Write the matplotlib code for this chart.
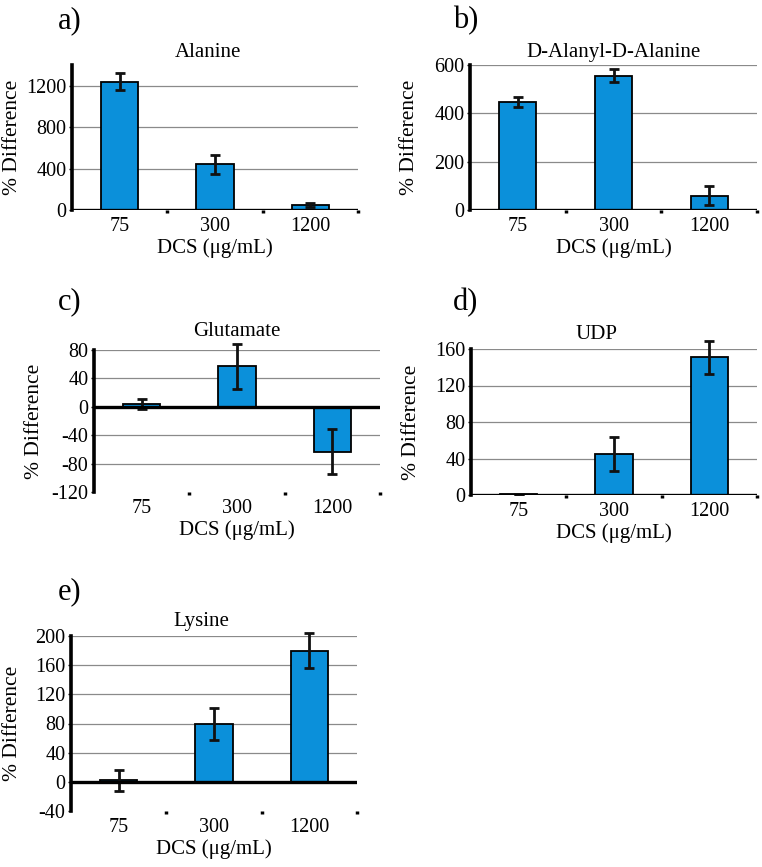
import matplotlib
matplotlib.use("Agg")
import matplotlib.pyplot as plt

plt.rcParams['font.family'] = ['Liberation Serif', 'DejaVu Serif']

# data
doses = ['75', '300', '1200']

alanine = [1240, 440, 48]
alanine_err = [85, 88, 15]

dada = [448, 555, 60]
dada_err = [20, 27, 40]

glutamate = [4, 57, -63]
glutamate_err = [7, 32, 32]

udp = [1.2, 45, 151]
udp_err = [0, 19, 18]

lysine = [2, 79, 180]
lysine_err = [14, 22, 24]

titles = ['Alanine', 'D-Alanyl-D-Alanine', 'Glutamate', 'UDP', 'Lysine']
letters = ['a)', 'b)', 'c)', 'd)', 'e)']
yticks = [[0, 400, 800, 1200],
          [0, 200, 400, 600],
          [-120, -80, -40, 0, 40, 80],
          [0, 40, 80, 120, 160],
          [-40, 0, 40, 80, 120, 160, 200]]
ylims = [(0, 1400), (0, 600), (-120, 80), (0, 160), (-40, 200)]

values = [alanine, dada, glutamate, udp, lysine]
errors = [alanine_err, dada_err, glutamate_err, udp_err, lysine_err]

W, H = 762, 867
# axes boxes in pixels: left, top, right, bottom
boxes = [(72, 65, 358, 210),
         (470, 65, 757, 210),
         (94, 350, 380, 492),
         (471, 349, 757, 495),
         (71, 636, 357, 811)]
title_pad = [6, 6, 10, 7, 7]
title_x = [0.475, 0.5, 0.5, 0.44, 0.455]
ylabel_px = [22, 419, 44, 421, 22]
letter_pos = [(58, 21), (453, 21), (58, 302), (453, 303), (58, 592)]

BLUE = '#0b90da'
FS = 14.5

fig = plt.figure(figsize=(W / 100, H / 100), dpi=100)

for i in range(5):
    l, t, r, b = boxes[i]
    ax = fig.add_axes([l / W, 1 - b / H, (r - l) / W, (b - t) / H])
    x = list(range(len(doses)))
    ax.bar(x, values[i], width=0.39, color=BLUE, edgecolor='black',
           linewidth=1.3, zorder=3)
    eb = ax.errorbar(x, values[i], yerr=errors[i], fmt='none', ecolor='#111111',
                     elinewidth=2, capsize=3.5, capthick=2, zorder=4)
    for art in eb.lines[1] + eb.lines[2]:
        art.set_clip_on(False)

    ax.set_xlim(-0.5, 2.5)
    ax.set_ylim(*ylims[i])
    ax.set_yticks(yticks[i])
    ax.set_yticklabels([str(v) for v in yticks[i]], fontsize=FS)
    for v in yticks[i]:
        if v != 0 and v != ylims[i][0]:
            ax.axhline(v, color='#8a8a8a', lw=0.9, zorder=1)
    ax.axhline(0, color='black', lw=2.4, zorder=5)

    # boundary ticks + category labels
    ax.set_xticks([0.5, 1.5, 2.5])
    ax.set_xticklabels([])
    ax.set_xticks(x, minor=True)
    ax.set_xticklabels(doses, minor=True, fontsize=FS)
    ax.tick_params(axis='x', which='major', direction='out', length=2.5,
                   width=2.5, color='black')
    ax.tick_params(axis='x', which='minor', length=0, pad=5)
    ax.tick_params(axis='y', length=2, width=1, pad=2)

    for s in ['top', 'right', 'bottom']:
        ax.spines[s].set_visible(False)
    ax.spines['left'].set_linewidth(2.6)
    ax.spines['left'].set_zorder(6)

    ax.set_title(titles[i], fontsize=15, pad=title_pad[i], x=title_x[i])
    ax.set_xlabel('DCS (\u03bcg/mL)', fontsize=15, labelpad=2)
    ax.set_ylabel('% Difference', fontsize=15.5)
    ax.yaxis.set_label_coords((ylabel_px[i] - l) / (r - l), 0.5)

    lx, ly = letter_pos[i]
    fig.text(lx / W, 1 - ly / H, letters[i], fontsize=22, va='center',
             ha='left')

fig.savefig('out.png', dpi=100)
